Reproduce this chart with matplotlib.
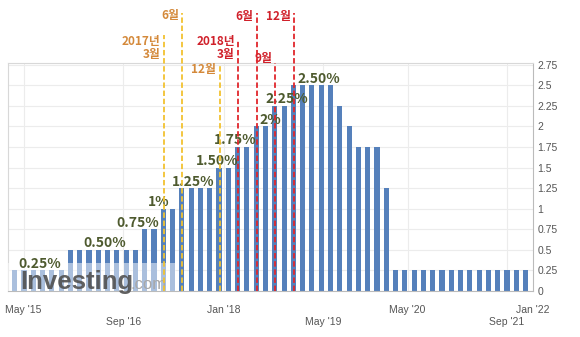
import numpy as np
import matplotlib.pyplot as plt
from matplotlib.patches import Rectangle

# fed funds upper bound after each FOMC meeting (Mar 2015 .. Dec 2021)
rates = [
    0.25, 0.25, 0.25, 0.25, 0.25, 0.25,
    0.50, 0.50, 0.50, 0.50, 0.50, 0.50, 0.50, 0.50,
    0.75, 0.75,
    1.00, 1.00,
    1.25, 1.25, 1.25, 1.25,
    1.50, 1.50,
    1.75, 1.75,
    2.00, 2.00,
    2.25, 2.25,
    2.50, 2.50, 2.50, 2.50, 2.50,
    2.25,
    2.00,
    1.75, 1.75, 1.75,
    1.25,
    0.25, 0.25, 0.25, 0.25, 0.25, 0.25, 0.25, 0.25,
    0.25, 0.25, 0.25, 0.25, 0.25, 0.25, 0.25,
]

level_labels = ['0.25%', '0.50%', '0.75%', '1%', '1.25%', '1.50%',
                '1.75%', '2%', '2.25%', '2.50%']

hike_labels = ['2017년\n3월', '6월', '12월', '2018년\n3월', '6월', '9월', '12월']
hike_years = [2017, 2017, 2017, 2018, 2018, 2018, 2018]

# date labels: upper row and lower row
xtick_top = ["May '15", "Jan '18", "May '20", "Jan '22"]
xtick_top_pos = [0.95, 22.5, 42.3, 55.8]
xtick_low = ["Sep '16", "May '19", "Sep '21"]
xtick_low_pos = [11.7, 33.2, 53.0]
ytick_vals = [0, 0.25, 0.5, 0.75, 1, 1.25, 1.5, 1.75, 2, 2.25, 2.5, 2.75]

# layout tweaks for the annotations
label_dx = [2.7, 3.7, -0.8, -0.5, 1.2, -0.2, -0.3, 1.5, 1.3, 2.8]
line_top = [3.11, 3.38, 2.75, 3.05, 3.38, 2.77, 3.38]
text_top = [3.11, 3.42, 2.77, 3.11, 3.41, 2.90, 3.41]

BAR = '#5580bb'
OLIVE = '#4e5a2e'
YEAR_STYLE = {2017: ('#f2c230', '#d4893a'), 2018: ('#e0262c', '#d0202a')}

plt.rcParams['font.family'] = ['Noto Sans CJK KR', 'DejaVu Sans']

fig = plt.figure(figsize=(5.8, 3.37), dpi=100)
ax = fig.add_axes([8 / 580, 1 - 291 / 337, 525 / 580, 228 / 337])

x = np.arange(len(rates))
ax.bar(x, rates, width=0.55, color=BAR, zorder=2)

ax.set_xlim(-0.72, 55.55)
ax.set_ylim(0, 2.77)

# grid + frame
for v in ytick_vals:
    ax.axhline(v, color='#ececec', lw=0.8, zorder=0)
for p in xtick_top_pos[:-1] + xtick_low_pos:
    ax.axvline(p, color='#ececec', lw=0.8, zorder=0)
for side in ['left', 'top']:
    ax.spines[side].set_color('#d8d8d8')
for side in ['right', 'bottom']:
    ax.spines[side].set_color('#bbbbbb')

ax.yaxis.tick_right()
ax.set_yticks(ytick_vals)
ax.set_yticklabels([f'{v:g}' for v in ytick_vals])
ax.set_xticks(xtick_top_pos)
ax.set_xticklabels(xtick_top)
ax.set_xticks(xtick_low_pos, minor=True)
ax.set_xticklabels(xtick_low, minor=True)
ax.tick_params(which='both', length=0, labelsize=7.5, labelcolor='#555555')
ax.tick_params(axis='x', which='major', pad=10)
ax.tick_params(axis='x', which='minor', pad=19)
ax.tick_params(axis='y', pad=3)
for lab in (ax.get_xticklabels() + ax.get_xticklabels(minor=True)
            + ax.get_yticklabels()):
    lab.set_family('Liberation Sans')

# percent labels at the first meeting of each new level
steps = [0] + [i for i in range(1, len(rates)) if rates[i] > rates[i - 1]]
for lab, i, dx in zip(level_labels, steps, label_dx):
    ax.text(i + dx, rates[i] + 0.03, lab, ha='center', va='baseline',
            fontsize=10, fontweight='bold', color=OLIVE, zorder=4)

# dashed markers for the 2017-2018 hikes
hikes = steps[3:]
for lab, yr, i, top, ttop in zip(hike_labels, hike_years, hikes, line_top, text_top):
    lc, tc = YEAR_STYLE[yr]
    ax.plot([i + 0.05, i + 0.05], [0, top], color=lc, lw=1.3,
            dashes=(3, 1.5), clip_on=False, zorder=5)
    ax.text(i - 0.3, ttop, lab, ha='right', va='top', fontsize=8.5,
            fontweight='bold', color=tc, linespacing=1.0, clip_on=False,
            multialignment='right')

# watermark
ax.add_patch(Rectangle((-0.72, 0), 18.1, 0.34, facecolor='white',
                       alpha=0.5, edgecolor='none', zorder=3))
ax.text(0.55, 0.02, 'Investing', ha='left', va='baseline', fontsize=18.5,
        fontweight='bold', color='#505050', alpha=0.9, family='Liberation Sans',
        zorder=4, clip_on=False)
ax.text(12.5, 0.02, '.com', ha='left', va='baseline', fontsize=12,
        color='#a8a8a8', family='Liberation Sans', zorder=4, clip_on=False)

fig.savefig('out.png', dpi=100)
